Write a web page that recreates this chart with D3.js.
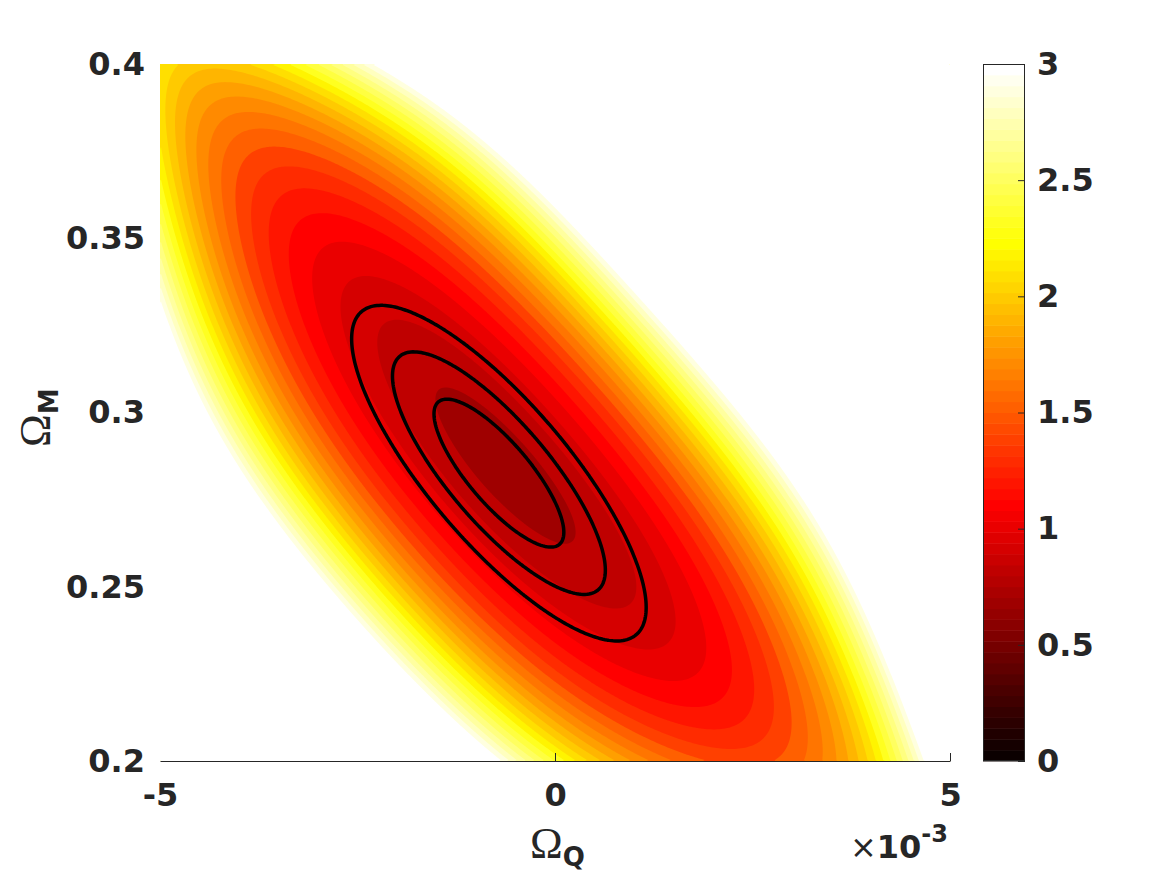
<!DOCTYPE html>
<html>
<head>
<meta charset="utf-8">
<script src="https://cdn.jsdelivr.net/npm/d3@7"></script>
<style>
body { margin: 0; background: #fff; }
text { fill: #262626; font-family: "DejaVu Sans", sans-serif; font-weight: bold; }
</style>
</head>
<body>
<div id="chart"></div>
<script>
const w = 1167;
const h = 875;
const plot = {left: 160, right: 950, top: 64, bottom: 761};
const cbar = {left: 983, right: 1025};

// axes
const qDomain = [-5e-3, 5e-3];
const mDomain = [0.2, 0.4];
const qTicks = [-5e-3, 0, 5e-3];
const mTicks = [0.2, 0.25, 0.3, 0.35, 0.4];
const cDomain = [0, 3];
const cTicks = [0, 0.5, 1, 1.5, 2, 2.5, 3];

// gaussian likelihood (black contours): best fit, 1 sigma errors, correlation
const bestFit = [-0.71e-3, 0.2826];
const sigma = [0.542e-3, 0.0140];
const rho = -0.80;
const dchi2Levels = [2.30, 6.18, 11.83];

// filled surface, in standardised principal coords (u across the ridge, v along it)
const surfMin = 0.76;
const surfCurv = [0.1032, 0.00814, 2.0e-5]; // u^2, v^2, v^4
const ridgeBend = [0.2, 0.012, 0.004];      // ridge centre: 1, v, v^2
const ridgeSteep = 7.5e-5;
const fillLevels = d3.range(0, 31).map(i => i / 10);

const svg = d3.select('#chart').append('svg')
  .attr('width', w).attr('height', h);

const x = d3.scaleLinear().domain(qDomain).range([plot.left, plot.right]);
const y = d3.scaleLinear().domain(mDomain).range([plot.bottom, plot.top]);
const c = d3.scaleLinear().domain(cDomain).range([plot.bottom, plot.top]);

//matlab hot(64)
const clamp = v => Math.max(0, Math.min(1, v));
const hot = d3.range(64).map(i => d3.rgb(
  255 * clamp((i + 1) / 24),
  255 * clamp((i + 1 - 24) / 24),
  255 * clamp((i + 1 - 48) / 16)).formatHex());
const colorOf = v => hot[Math.max(0, Math.min(63,
  Math.floor((v - cDomain[0]) / (cDomain[1] - cDomain[0]) * 64 + 1e-9)))];

function standard(q, m) {
  return [(q - bestFit[0]) / sigma[0], (m - bestFit[1]) / sigma[1]];
}
function dchi2(q, m) {
  const [p, r] = standard(q, m);
  return (p * p - 2 * rho * p * r + r * r) / (1 - rho * rho);
}
function surface(q, m) {
  const [p, r] = standard(q, m);
  const u = (p + r) / Math.SQRT2, v = (p - r) / Math.SQRT2;
  const du = u - (ridgeBend[0] + ridgeBend[1] * v + ridgeBend[2] * v * v);
  return surfMin + surfCurv[0] * (1 + ridgeSteep * v ** 4) * du * du
    + surfCurv[1] * v * v + surfCurv[2] * v ** 4;
}

// sample grids
const nx = 395, ny = 349;
const gx = d3.scaleLinear().domain([0, nx]).range([plot.left, plot.right]);
const gy = d3.scaleLinear().domain([0, ny]).range([plot.top, plot.bottom]);
const fillGrid = new Float64Array(nx * ny);
const chiGrid = new Float64Array(nx * ny);
for (let j = 0; j < ny; j++) {
  const m = y.invert(gy(j + 0.5));
  for (let i = 0; i < nx; i++) {
    const q = x.invert(gx(i + 0.5));
    fillGrid[j * nx + i] = surface(q, m);
    chiGrid[j * nx + i] = -dchi2(q, m); //negated so regions are the insides
  }
}
const path = d3.geoPath(d3.geoTransform({
  point(px, py) { this.stream.point(gx(px), gy(py)); }
}));

// filled contours
svg.append('g').selectAll('path')
  .data(d3.contours().size([nx, ny]).thresholds(fillLevels)(fillGrid))
  .enter().append('path')
  .attr('d', path)
  .attr('fill', d => colorOf(d.value));

// 1,2,3 sigma lines
svg.append('g').selectAll('path')
  .data(d3.contours().size([nx, ny]).thresholds(dchi2Levels.map(l => -l))(chiGrid))
  .enter().append('path')
  .attr('d', path)
  .attr('fill', 'none')
  .attr('stroke', '#000')
  .attr('stroke-width', 3.5)
  .attr('stroke-linejoin', 'round');

// x axis
const xAxis = svg.append('g')
  .attr('transform', `translate(0,${plot.bottom})`)
  .call(d3.axisBottom(x).tickValues(qTicks)
    .tickFormat(d => String(Math.round(d * 1e3)))
    .tickSizeInner(-8).tickSizeOuter(0).tickPadding(22));
xAxis.selectAll('text').style('font-size', '32px');
xAxis.select('.domain').attr('stroke', '#262626');
xAxis.selectAll('.tick line').attr('stroke', '#262626')
  .filter(d => d === qTicks[0]).remove();
xAxis.attr('font-family', null).attr('font-size', null);

// y axis
const yAxis = svg.append('g')
  .attr('transform', `translate(${plot.left},0)`)
  .call(d3.axisLeft(y).tickValues(mTicks).tickFormat(d => String(d))
    .tickSize(0).tickPadding(15));
yAxis.select('.domain').remove();
yAxis.selectAll('text').style('font-size', '32px');
yAxis.attr('font-family', null).attr('font-size', null);

// axis labels
const xLab = svg.append('text').attr('x', 530).attr('y', 858);
xLab.append('tspan').text('Ω')
  .style('font-family', '"Liberation Serif", serif').style('font-weight', 'normal').style('font-size', '44px');
xLab.append('tspan').text('Q').attr('dy', 8).style('font-size', '26px');

const yLab = svg.append('text').attr('transform', 'translate(50,447) rotate(-90)');
yLab.append('tspan').text('Ω')
  .style('font-family', '"Liberation Serif", serif').style('font-weight', 'normal').style('font-size', '44px');
yLab.append('tspan').text('M').attr('dy', 8).style('font-size', '26px');

const mult = svg.append('text').attr('x', 948).attr('y', 858).attr('text-anchor', 'end');
mult.append('tspan').text('×').style('font-size', '32px').style('font-weight', 'normal');
mult.append('tspan').text('10').style('font-size', '32px');
mult.append('tspan').text('-3').attr('dy', -16).style('font-size', '24px');

// colorbar
const cb = svg.append('g');
cb.selectAll('rect')
  .data(hot)
  .enter().append('rect')
  .attr('x', cbar.left)
  .attr('width', cbar.right - cbar.left)
  .attr('y', (d, i) => c(cDomain[0] + (i + 1) * (cDomain[1] - cDomain[0]) / 64))
  .attr('height', (d, i) => c(cDomain[0] + i * (cDomain[1] - cDomain[0]) / 64)
    - c(cDomain[0] + (i + 1) * (cDomain[1] - cDomain[0]) / 64) + 0.5)
  .attr('fill', d => d);
cb.append('rect')
  .attr('x', cbar.left + 0.5).attr('y', plot.top + 0.5)
  .attr('width', cbar.right - cbar.left - 1).attr('height', plot.bottom - plot.top - 1)
  .attr('fill', 'none').attr('stroke', '#262626');
const cAxis = svg.append('g')
  .attr('transform', `translate(${cbar.right},0)`)
  .call(d3.axisRight(c).tickValues(cTicks).tickFormat(d => String(d))
    .tickSizeInner(-7).tickSizeOuter(0).tickPadding(12));
cAxis.select('.domain').remove();
cAxis.selectAll('.tick line').attr('stroke', '#262626');
cAxis.selectAll('text').style('font-size', '32px');
cAxis.attr('font-family', null).attr('font-size', null);
</script>
</body>
</html>
